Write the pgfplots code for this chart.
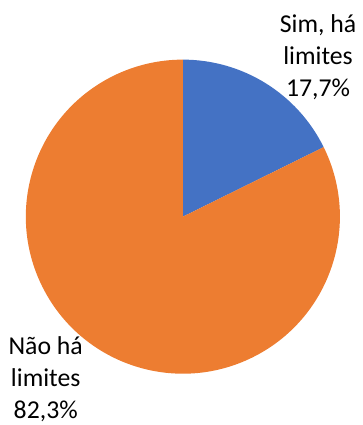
\documentclass[border=0pt]{standalone}
\usepackage{pgfplots}
\pgfplotsset{compat=1.18}
\usepackage{fontspec}
\setmainfont{Carlito}
\definecolor{cblue}{HTML}{4472C4}
\definecolor{corange}{HTML}{ED7D31}
\begin{document}
\begin{tikzpicture}
\pgfmathsetmacro{\valA}{17.7}
\pgfmathsetmacro{\valB}{82.3}
\pgfmathsetmacro{\angA}{90-360*\valA/(\valA+\valB)}
\begin{axis}[x=1bp, y=1bp, xmin=0, xmax=362, ymin=0, ymax=425, hide axis, clip=false]
\addplot[draw=none, forget plot] coordinates {(0,0) (362,425)};
\fill[cblue] (axis cs:184,207) -- ++(90:158bp) arc[start angle=90, end angle=\angA, radius=158bp] -- cycle;
\fill[corange] (axis cs:184,207) -- ++(\angA:158bp) arc[start angle=\angA, end angle=-270, radius=158bp] -- cycle;
\node[anchor=base, font=\fontsize{26}{32}\selectfont] at (axis cs:320,392) {Sim, há};
\node[anchor=base, font=\fontsize{26}{32}\selectfont] at (axis cs:320,360) {limites};
\node[anchor=base, font=\fontsize{26}{32}\selectfont] at (axis cs:320,328) {17,7\%};
\node[anchor=base, font=\fontsize{26}{32}\selectfont] at (axis cs:46,68) {Não há};
\node[anchor=base, font=\fontsize{26}{32}\selectfont] at (axis cs:46,36) {limites};
\node[anchor=base, font=\fontsize{26}{32}\selectfont] at (axis cs:46,4) {82,3\%};
\end{axis}
\end{tikzpicture}
\end{document}
